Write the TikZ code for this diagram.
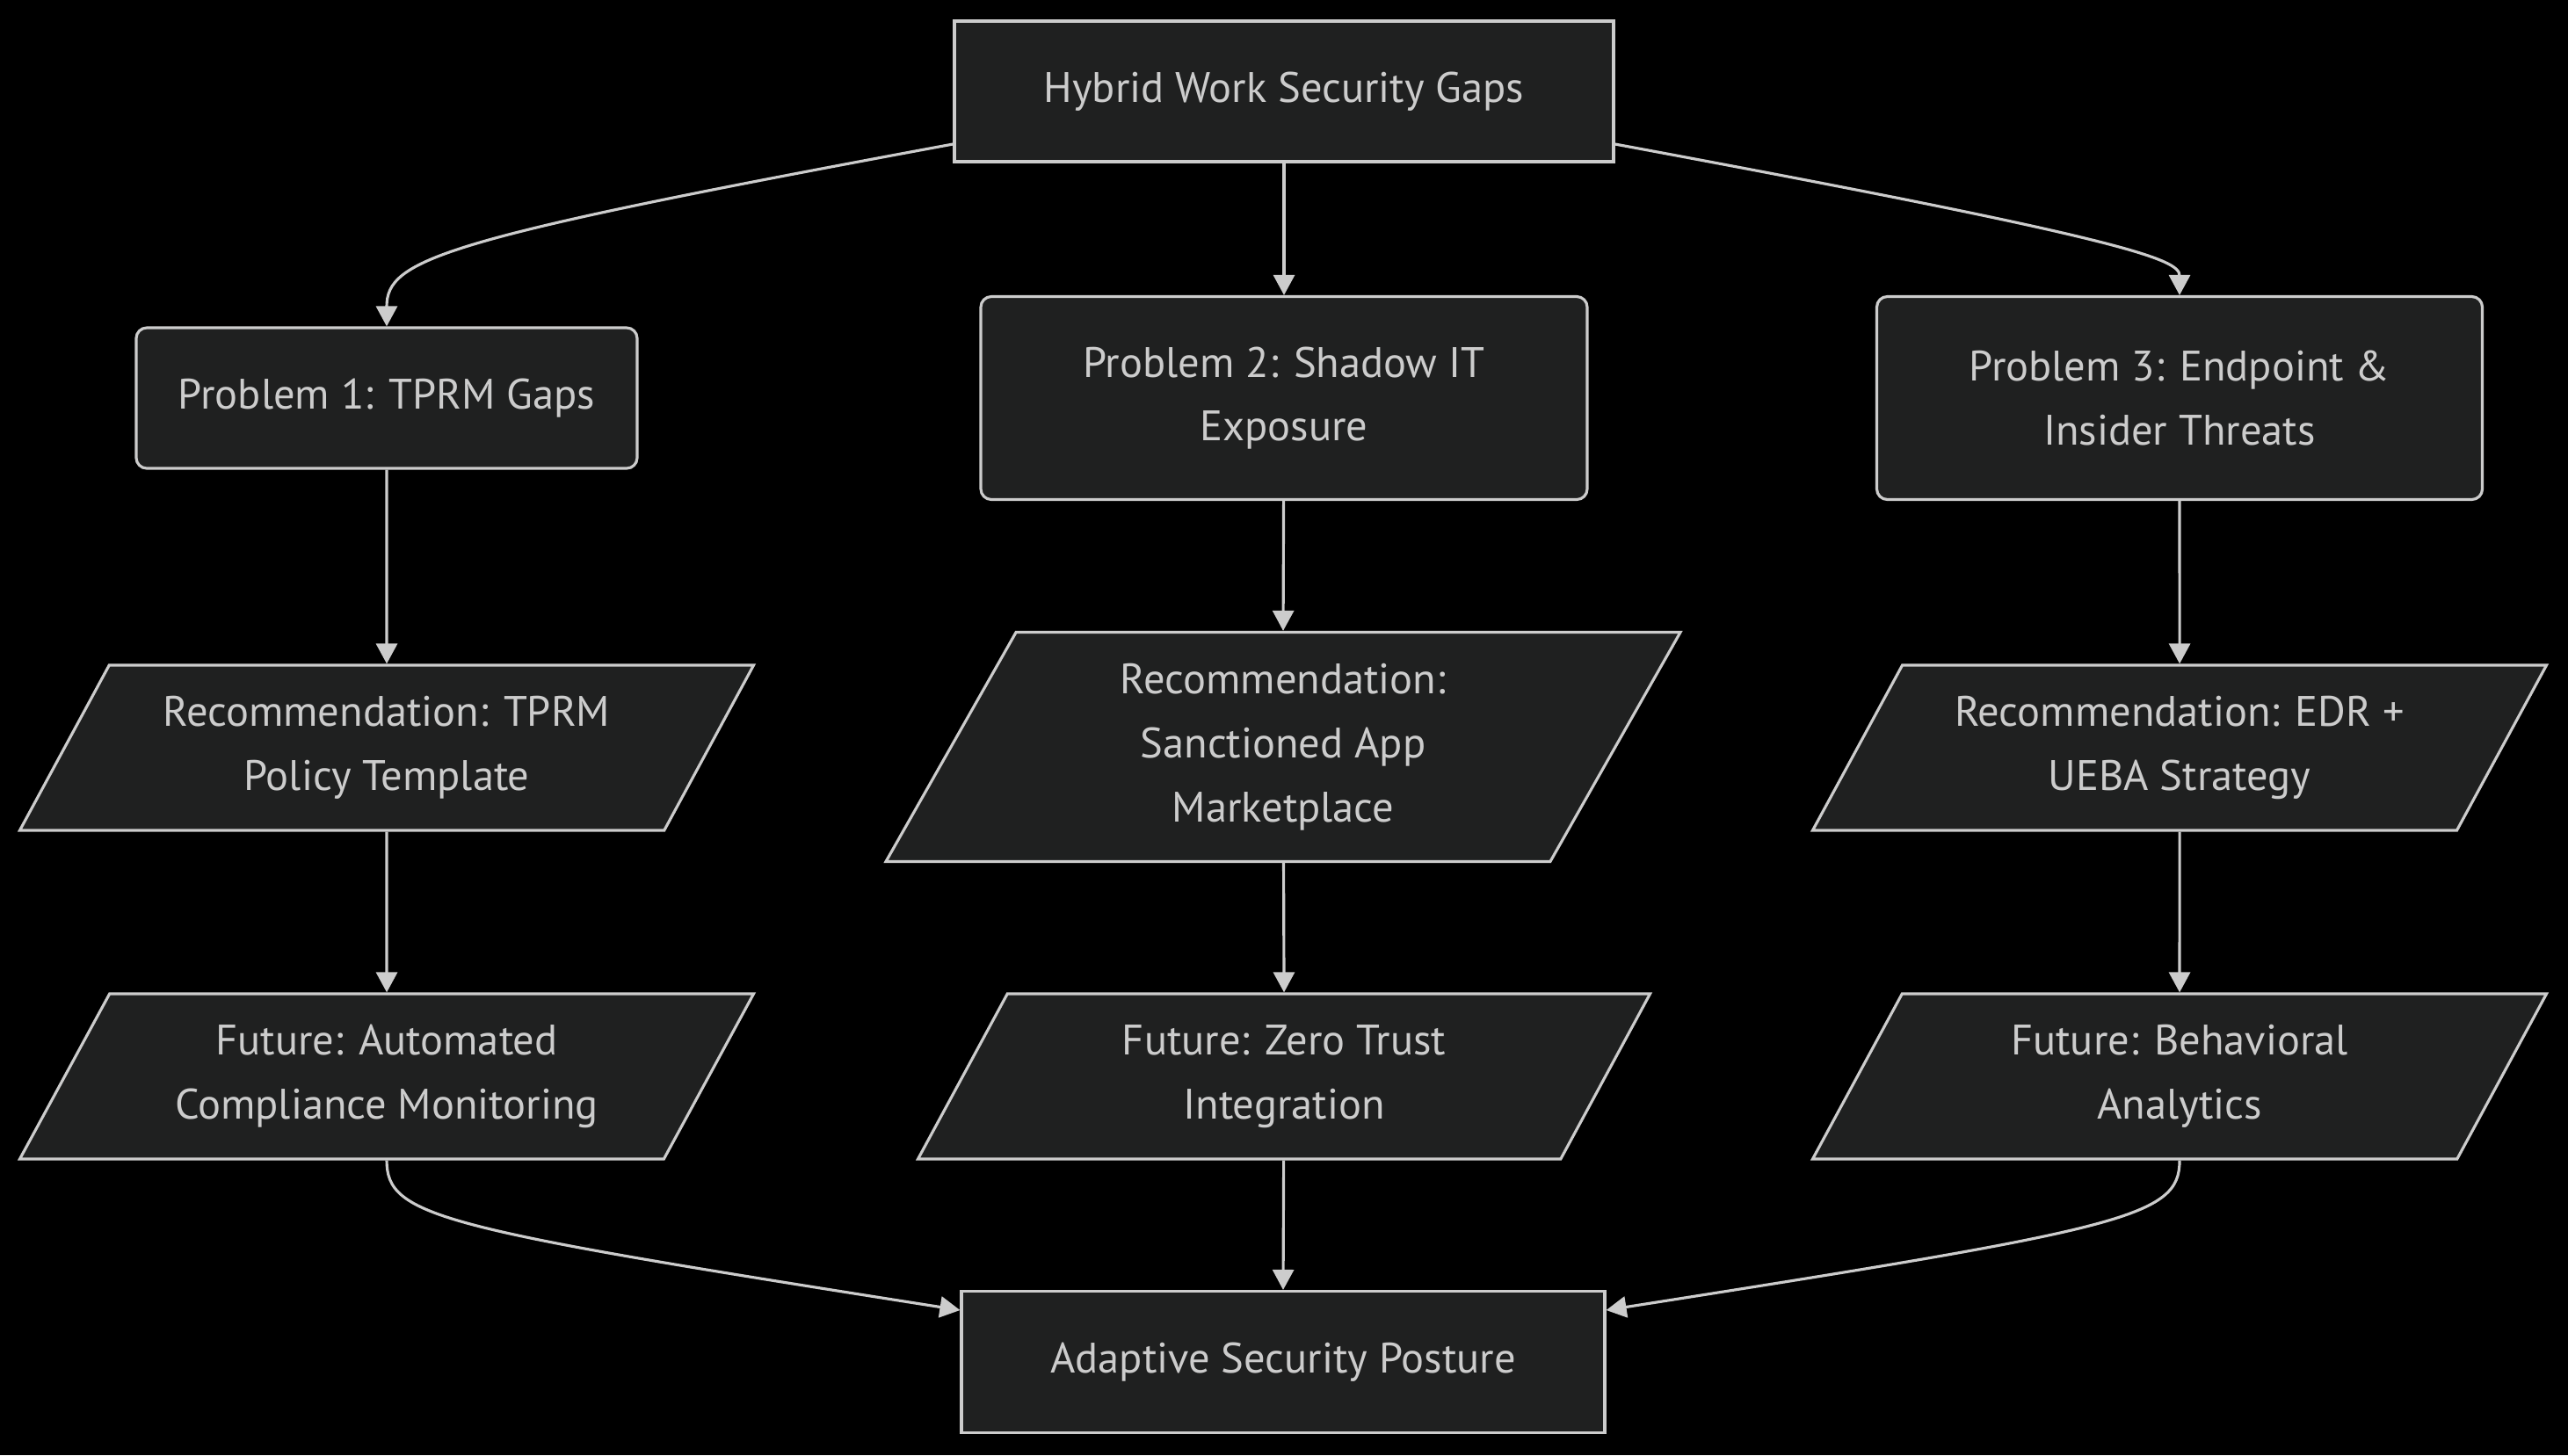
\documentclass[tikz,border=0pt]{standalone}
\usepackage{fontspec}
\setmainfont{PT Sans}
\usepackage{tikz}
\usetikzlibrary{positioning,shapes.geometric,arrows.meta}

\definecolor{nodefill}{HTML}{1F2020}
\definecolor{linegray}{HTML}{CCCCCC}

\begin{document}
\begin{tikzpicture}[%
		->,
		>={Triangle[length=0.23cm,width=0.24cm]},
		line width=0.9pt,
		draw=linegray,
		font=\fontsize{13.8}{20.7}\selectfont,
		box/.style={%
			draw=linegray,
			fill=nodefill,
			text=linegray,
			align=center,
			inner sep=0pt
		},
		plainbox/.style={box},
		roundbox/.style={box,rounded corners=0.12cm},
		slantbox/.style={%
			box,
			trapezium,
			trapezium left angle=49,
			trapezium right angle=131,
			trapezium stretches body,
			minimum height=1.88cm
		}
		]
		\fill[black] (0,0) rectangle (29.22,-16.56);
		\useasboundingbox (0,0) rectangle (29.22,-16.56);

		\node[plainbox,minimum width=7.50cm,minimum height=1.60cm] (gaps) at (14.61,-1.04)  {Hybrid Work Security Gaps};
		\node[roundbox,minimum width=5.70cm,minimum height=1.60cm] (prob1) at (4.40,-4.53)  {Problem 1: TPRM Gaps};
		\node[roundbox,minimum width=6.90cm,minimum height=2.31cm] (prob2) at (14.61,-4.53) {Problem 2: Shadow IT\\Exposure};
		\node[roundbox,minimum width=6.89cm,minimum height=2.31cm] (prob3) at (24.80,-4.53) {Problem 3: Endpoint \&\\Insider Threats};

		\node[slantbox,minimum width=8.35cm] (rec1) at (4.40,-8.51)  {Recommendation: TPRM\\Policy Template};
		\node[slantbox,minimum width=9.04cm,minimum height=2.61cm,
			trapezium left angle=52,trapezium right angle=128] (rec2) at (14.60,-8.50) {Recommendation:\\Sanctioned App\\Marketplace};
		\node[slantbox,minimum width=8.35cm] (rec3) at (24.80,-8.51) {Recommendation: EDR +\\UEBA Strategy};

		\node[slantbox,minimum width=8.35cm] (fut1) at (4.40,-12.25)  {Future: Automated\\Compliance Monitoring};
		\node[slantbox,minimum width=8.33cm] (fut2) at (14.61,-12.25) {Future: Zero Trust\\Integration};
		\node[slantbox,minimum width=8.35cm] (fut3) at (24.80,-12.25) {Future: Behavioral\\Analytics};

		\node[plainbox,minimum width=7.32cm,minimum height=1.61cm] (posture) at (14.60,-15.50) {Adaptive Security Posture};

		% fan out
		\draw[linegray] ([yshift=-0.6cm]gaps.west) .. controls (5.0,-2.72) and (4.40,-2.95) .. (prob1.north);
		\draw[linegray] ([yshift=-0.6cm]gaps.east) .. controls (24.21,-2.72) and (24.80,-2.95) .. (prob3.north);
		\path[linegray] (gaps) edge (prob2.north);

		% columns
		\path[linegray] (prob1) edge (rec1.north)
		(prob2) edge (rec2.north)
		(prob3) edge (rec3.north)
		(rec1) edge (fut1.north)
		(rec2) edge (fut2.north)
		(rec3) edge (fut3.north);

		% fan in
		\draw[linegray] (fut1.south) .. controls (4.40,-13.85) and (5.0,-13.98) .. ([yshift=0.59cm]posture.west);
		\draw[linegray] (fut3.south) .. controls (24.80,-13.85) and (24.20,-13.98) .. ([yshift=0.59cm]posture.east);
		\path[linegray] (fut2) edge (posture.north);
		\end{tikzpicture}
\end{document}
